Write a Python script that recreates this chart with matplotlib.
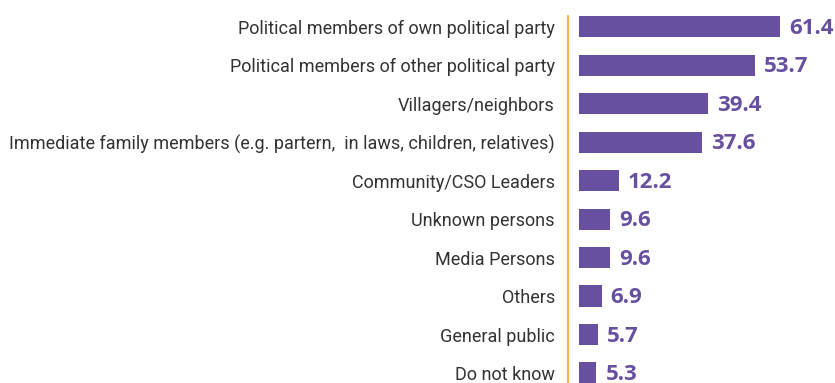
import matplotlib.pyplot as plt

# reported sources, top to bottom
categories = [
    "Political members of own political party",
    "Political members of other political party",
    "Villagers/neighbors",
    "Immediate family members (e.g. partern,  in laws, children, relatives)",
    "Community/CSO Leaders",
    "Unknown persons",
    "Media Persons",
    "Others",
    "General public",
    "Do not know",
]
values = [61.4, 53.7, 39.4, 37.6, 12.2, 9.6, 9.6, 6.9, 5.7, 5.3]

bar_color = "#6750a0"
axis_color = "#f5a623"

fig = plt.figure(figsize=(8.35, 3.83), dpi=100)
ax = fig.add_axes([568 / 835, 0, 1 - 568 / 835, 1 - 16 / 383])

y = list(range(len(categories)))
ax.barh(y, values, height=0.55, color=bar_color)

for yi, v in zip(y, values):
    ax.text(v + 2.8, yi + 0.04, f"{v}", va="center", ha="left",
            fontsize=16, fontweight="bold", color=bar_color,
            family="Open Sans")

ax.set_xlim(-3.36, 78.3)
ax.set_ylim(9.26, -0.28)

ax.set_yticks(y)
ax.set_yticklabels(categories, fontsize=13, color="#333333", family="Roboto")
ax.tick_params(axis="y", length=0, pad=9.5)
ax.set_xticks([])

for s in ["top", "right", "bottom"]:
    ax.spines[s].set_visible(False)
ax.spines["left"].set_color(axis_color)
ax.spines["left"].set_linewidth(1.2)

fig.savefig("out.png", dpi=100)
